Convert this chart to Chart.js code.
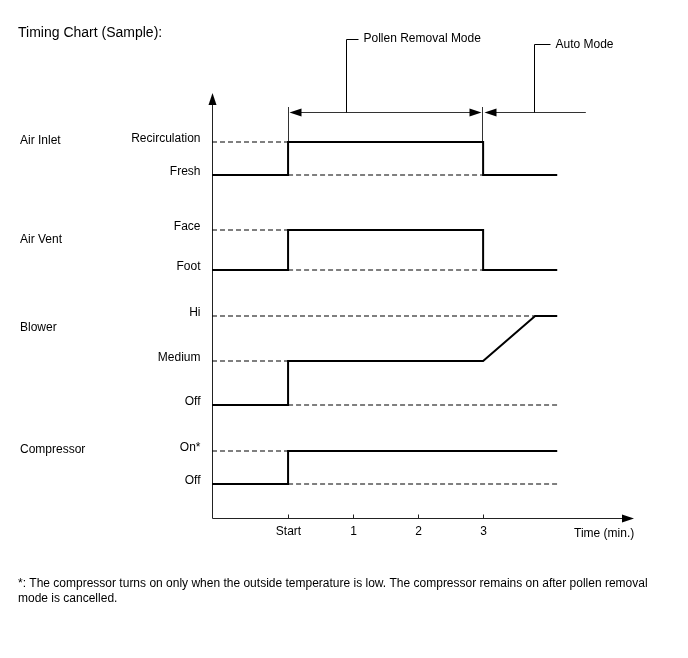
<!DOCTYPE html>
<html>
<head>
<meta charset="utf-8">
<title>Timing Chart</title>
<script src="https://cdn.jsdelivr.net/npm/chart.js@4/dist/chart.umd.min.js"></script>
<style>
  html, body { margin: 0; padding: 0; background: #fff; }
</style>
</head>
<body>
<canvas id="myChart" width="688" height="658"></canvas>
<script>
// time axis, minutes (Start = 0)
var timeTicks = [0, 1, 2, 3];
var timeTickLabels = ['Start', '1', '2', '3'];
var timeMin = -1.17, timeEnd = 4.14, timeMax = 5.29;

// signal levels, in chart units above the time axis
var levelNames = ['Recirculation', 'Fresh', 'Face', 'Foot', 'Hi', 'Medium', 'Off', 'On*', 'Off'];
var levelValues = [37.6, 34.3, 28.8, 24.8, 20.2, 15.7, 11.3, 6.7, 3.4];
var groupNames = ['Air Inlet', 'Air Vent', 'Blower', 'Compressor'];
var groupValues = [37.7, 27.8, 19.0, 6.8];

// signals: time points and level index at each point
var airInletTime = [timeMin, 0, 0, 3, 3, timeEnd];
var airInletLevel = [1, 1, 0, 0, 1, 1];
var airVentTime = [timeMin, 0, 0, 3, 3, timeEnd];
var airVentLevel = [3, 3, 2, 2, 3, 3];
var blowerTime = [timeMin, 0, 0, 3, 3.8, timeEnd];
var blowerLevel = [6, 6, 5, 5, 4, 4];
var compressorTime = [timeMin, 0, 0, timeEnd];
var compressorLevel = [8, 8, 7, 7];

// dashed guide lines: level index, from, to
var guideLevel = [0, 1, 2, 3, 4, 5, 6, 7, 8];
var guideFrom = [timeMin, 0, timeMin, 0, timeMin, timeMin, 0, timeMin, 0];
var guideTo = [0, 3, 0, 3, 3.8, 0, timeEnd, 0, timeEnd];

// mode bands on top
var pollenFrom = 0, pollenTo = 3, autoTo = 4.58;

var FONT = '"Liberation Sans", Arial, sans-serif';

function points(times, levels) {
  return times.map(function (t, i) { return { x: t, y: levelValues[levels[i]] }; });
}

var datasets = [];
[[airInletTime, airInletLevel], [airVentTime, airVentLevel],
 [blowerTime, blowerLevel], [compressorTime, compressorLevel]].forEach(function (s) {
  datasets.push({
    data: points(s[0], s[1]),
    borderColor: '#000',
    borderWidth: 2,
    borderJoinStyle: 'miter',
    order: 1
  });
});
guideLevel.forEach(function (lv, i) {
  datasets.push({
    data: [{ x: guideFrom[i], y: levelValues[lv] }, { x: guideTo[i], y: levelValues[lv] }],
    borderColor: '#000',
    borderWidth: 1.2,
    borderDash: [5, 3],
    order: 2
  });
});

function arrowHead(c, x, y, dir) {
  // dir: 'left', 'right', 'up'
  c.beginPath();
  if (dir === 'left') { c.moveTo(x, y); c.lineTo(x + 12, y - 4); c.lineTo(x + 12, y + 4); }
  if (dir === 'right') { c.moveTo(x, y); c.lineTo(x - 12, y - 4); c.lineTo(x - 12, y + 4); }
  if (dir === 'up') { c.moveTo(x, y); c.lineTo(x - 4, y + 12); c.lineTo(x + 4, y + 12); }
  c.closePath();
  c.fill();
}

var decor = {
  id: 'decor',
  beforeDatasetsDraw: function (chart) {
    var c = chart.ctx, xs = chart.scales.x, ys = chart.scales.y;
    var x0 = Math.round(xs.getPixelForValue(timeMin)) + 0.5;
    var yb = Math.round(ys.getPixelForValue(0)) + 0.5;
    var xr = xs.getPixelForValue(timeMax);
    var yt = ys.getPixelForValue(42.3);
    c.save();
    c.strokeStyle = '#222';
    c.fillStyle = '#000';
    c.lineWidth = 1;
    // axes
    c.beginPath();
    c.moveTo(x0, yb); c.lineTo(xr - 4, yb);
    c.moveTo(x0, yb); c.lineTo(x0, yt + 4);
    c.stroke();
    arrowHead(c, xr + 2, yb, 'right');
    arrowHead(c, x0, yt - 2, 'up');
    // ticks
    c.font = '12px ' + FONT;
    c.textAlign = 'center';
    c.textBaseline = 'middle';
    timeTicks.forEach(function (t, i) {
      var px = Math.round(xs.getPixelForValue(t)) + 0.5;
      c.beginPath(); c.moveTo(px, yb); c.lineTo(px, yb - 4); c.stroke();
      c.fillText(timeTickLabels[i], px, yb + 13);
    });
    c.textAlign = 'left';
    c.fillText('Time (min.)', xr - 58, yb + 15);

    // level labels
    c.textAlign = 'right';
    levelNames.forEach(function (n, i) {
      c.fillText(n, x0 - 12, ys.getPixelForValue(levelValues[i]) - 3);
    });
    c.textAlign = 'left';
    groupNames.forEach(function (n, i) {
      c.fillText(n, 20, ys.getPixelForValue(groupValues[i]));
    });

    // mode band
    var pS = Math.round(xs.getPixelForValue(pollenFrom)) + 0.5;
    var p3 = Math.round(xs.getPixelForValue(pollenTo)) - 0.5;
    var pA = xs.getPixelForValue(autoTo);
    var yl = Math.round(ys.getPixelForValue(40.6)) + 0.5;
    var ymTop = ys.getPixelForValue(41.1);
    c.strokeStyle = '#333';
    c.beginPath();
    c.moveTo(pS, ymTop); c.lineTo(pS, ys.getPixelForValue(levelValues[0]));
    c.moveTo(p3, ymTop); c.lineTo(p3, ys.getPixelForValue(levelValues[0]));
    c.moveTo(pS + 6, yl); c.lineTo(p3 - 6, yl);
    c.moveTo(p3 + 8, yl); c.lineTo(pA, yl);
    c.stroke();
    arrowHead(c, pS + 1, yl, 'left');
    arrowHead(c, p3 - 1, yl, 'right');
    arrowHead(c, p3 + 2, yl, 'left');
    // leaders
    var l1 = Math.round(xs.getPixelForValue(0.89)) + 0.5;
    var l2 = Math.round(xs.getPixelForValue(3.78)) + 0.5;
    var t1 = Math.round(ys.getPixelForValue(47.9)) + 0.5;
    var t2 = Math.round(ys.getPixelForValue(47.4)) + 0.5;
    c.strokeStyle = '#000';
    c.beginPath();
    c.moveTo(l1, yl); c.lineTo(l1, t1); c.lineTo(l1 + 12, t1);
    c.moveTo(l2, yl); c.lineTo(l2, t2); c.lineTo(l2 + 16, t2);
    c.stroke();
    c.fillText('Pollen Removal Mode', l1 + 17, t1 - 1);
    c.fillText('Auto Mode', l2 + 21, t2);

    // title and footnote
    c.font = '14px ' + FONT;
    c.fillText('Timing Chart (Sample):', 18, 33);
    c.font = '12px ' + FONT;
    c.fillText('*: The compressor turns on only when the outside temperature is low. The compressor remains on after pollen removal', 18, 584);
    c.fillText('mode is cancelled.', 18, 599);
    c.restore();
  }
};

var chart = new Chart(document.getElementById('myChart').getContext('2d'), {
  type: 'line',
  data: { datasets: datasets },
  plugins: [decor],
  options: {
    responsive: false,
    animation: false,
    devicePixelRatio: 1,
    layout: { padding: { left: 212, right: 56, top: 95, bottom: 140 } },
    elements: { point: { radius: 0, hoverRadius: 0 }, line: { tension: 0, fill: false } },
    plugins: { legend: { display: false }, tooltip: { enabled: false } },
    events: [],
    scales: {
      x: { type: 'linear', min: timeMin, max: timeMax, display: false },
      y: { type: 'linear', min: 0, max: 42.3, display: false }
    }
  }
});
</script>
</body>
</html>
